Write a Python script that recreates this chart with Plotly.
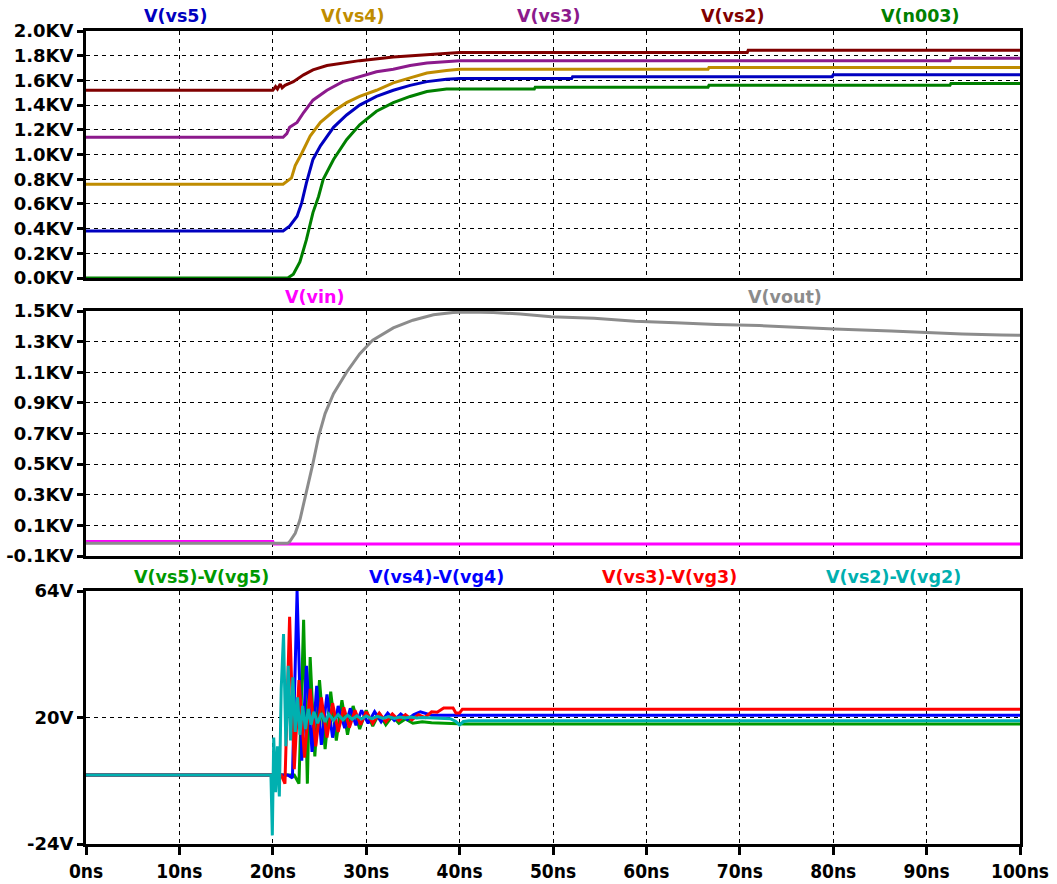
import plotly.graph_objects as go

# ---------------- data ----------------
# top panel (KV)
t_vs5 = [0, 21.1, 21.8, 22.6, 23.1, 23.6, 24.3, 25.1, 26.5, 27.9, 29.3, 31.1, 32.9, 34.7, 36.5, 38.6, 40.0, 52.0, 52.1, 79.9, 80.0, 100]
v_vs5 = [0.38, 0.38, 0.42, 0.50, 0.61, 0.77, 0.96, 1.07, 1.22, 1.32, 1.40, 1.47, 1.52, 1.56, 1.59, 1.61, 1.615, 1.615, 1.63, 1.63, 1.645, 1.645]

t_vs4 = [0, 21.1, 22.0, 22.4, 23.1, 24.0, 25.1, 26.5, 27.9, 29.3, 31.1, 32.9, 34.7, 36.5, 38.6, 40.0, 66.6, 66.7, 100]
v_vs4 = [0.76, 0.76, 0.81, 0.91, 1.01, 1.15, 1.26, 1.35, 1.42, 1.47, 1.52, 1.58, 1.62, 1.66, 1.68, 1.69, 1.69, 1.705, 1.705]

t_vs3 = [0, 21.1, 21.5, 21.8, 22.6, 23.3, 24.3, 25.8, 27.5, 29.3, 31.1, 32.9, 34.7, 36.5, 38.6, 40.0, 92.5, 92.6, 100]
v_vs3 = [1.14, 1.14, 1.17, 1.22, 1.26, 1.34, 1.44, 1.52, 1.59, 1.63, 1.67, 1.69, 1.72, 1.74, 1.755, 1.76, 1.76, 1.78, 1.78]

t_vs2 = [0, 20.0, 20.3, 20.5, 20.8, 21.0, 21.3, 21.6, 22.2, 23.3, 24.3, 25.8, 27.5, 29.3, 32.9, 36.5, 40.0, 70.8, 70.9, 100]
v_vs2 = [1.52, 1.52, 1.55, 1.53, 1.57, 1.54, 1.56, 1.57, 1.59, 1.645, 1.685, 1.72, 1.74, 1.76, 1.79, 1.81, 1.825, 1.825, 1.845, 1.845]

t_n003 = [0, 21.6, 22.2, 22.9, 23.6, 24.3, 24.9, 25.4, 26.5, 27.9, 29.3, 31.1, 32.9, 34.7, 36.5, 38.6, 40.0, 48.0, 48.1, 66.6, 66.7, 92.5, 92.6, 100]
v_n003 = [0, 0, 0.03, 0.13, 0.31, 0.53, 0.66, 0.80, 0.96, 1.12, 1.24, 1.35, 1.42, 1.47, 1.51, 1.53, 1.53, 1.53, 1.545, 1.545, 1.56, 1.56, 1.575, 1.575]

# middle panel (KV)
t_vin = [0, 20.0, 20.1, 100]
v_vin = [-0.005, -0.005, -0.022, -0.022]

t_vout = [0, 21.6, 21.8, 22.4, 22.9, 23.6, 24.3, 24.9, 25.6, 26.5, 27.9, 29.3, 30.7, 32.9, 35.0, 37.2, 39.3,
          40.8, 43.6, 46.5, 49.8, 54.4, 58.8, 63.1, 67.5, 72.1, 75.9, 80.1, 86.2, 90.0, 93.8, 98.0, 100]
v_vout = [-0.017, -0.017, -0.007, 0.048, 0.135, 0.31, 0.505, 0.68, 0.83, 0.96, 1.10, 1.22, 1.31, 1.39, 1.44, 1.475, 1.49,
          1.494, 1.49, 1.48, 1.463, 1.452, 1.433, 1.424, 1.412, 1.405, 1.394, 1.382, 1.370, 1.359, 1.350, 1.343, 1.342]

# bottom panel (V)
t_g5 = [0, 22.3, 22.8, 23.3, 23.7, 24.0, 24.5, 25.0, 25.6, 26.2, 26.8, 27.4, 28.0, 28.6, 29.3, 30.0, 30.7, 31.4,
        32.1, 32.8, 33.5, 34.2, 35.0, 36.0, 37.0, 38.0, 39.0, 40.0, 40.5, 100]
v_g5 = [0, 0, -3, 54, -3, 41, 6.5, 33, 9, 29, 12, 26, 14, 24, 16, 22.5, 17, 21.5,
        17.5, 20.5, 18, 19.5, 18, 18.5, 18.2, 18, 18, 17.8, 17.7, 17.7]

t_g4 = [0, 21.6, 22.1, 22.6, 23.1, 23.6, 24.2, 24.7, 25.2, 25.8, 26.4, 27.0, 27.7, 28.3, 28.9, 29.5, 30.2,
        30.9, 31.6, 32.3, 33.0, 33.7, 34.4, 35.1, 35.8, 36.3, 37.0, 37.6, 100]
v_g4 = [0, 0, -1, 64, 5, 38, 8, 31, 10.5, 28, 13, 24, 16.3, 23.2, 17.3, 22.5, 18,
        22, 18.5, 21.5, 19, 21.2, 19.3, 21, 22, 21.5, 20.8, 20.8, 20.8]

t_g3 = [0, 20.9, 21.3, 21.8, 22.3, 22.8, 23.4, 24.0, 24.6, 25.2, 25.8, 26.4, 27.0, 27.6, 28.2, 28.8, 29.4, 30.0,
        30.7, 31.4, 32.1, 32.8, 33.5, 34.2, 34.9, 35.6, 36.3, 37.0, 37.6, 38.3, 39.3, 39.6, 40.0, 40.3, 100]
v_g3 = [0, 0, -3, 55, 2, 33, 6, 30, 10, 27, 13, 25, 15, 23.5, 16.5, 22.5, 17.5, 22,
        18, 21.5, 18.5, 21.2, 19, 21, 19.2, 21, 20, 22, 21.8, 23.3, 23.3, 21.6, 21.6, 22.9, 22.9]

t_g2 = [0, 19.8, 19.95, 20.1, 20.3, 20.5, 20.7, 20.9, 21.15, 21.4, 21.65, 21.9, 22.15, 22.4, 22.65, 22.9, 23.2,
        23.5, 23.8, 24.1, 24.4, 24.8, 25.2, 25.6, 26.0, 26.5, 27.0, 27.5, 28.0, 28.5, 29.0, 29.5, 30.0, 30.6,
        31.2, 31.8, 32.4, 33.0, 33.6, 34.2, 34.8, 35.4, 36.0, 37.0, 38.0, 39.0, 39.6, 40.0, 40.4, 41.0, 100]
v_g2 = [0, 0, -21, 13, -6, 10, -7.5, 30, 49, 10, 38, 12, 34, 15, 27, 14, 24,
        16, 23, 17.5, 22, 18, 21.5, 18.5, 21.2, 19, 21, 19.2, 20.8, 19.4, 20.6, 19.5, 20.5, 19.6,
        20.4, 19.7, 20.3, 19.7, 20.2, 19.8, 20.2, 19.8, 20.0, 19.8, 19.8, 19.6, 18.6, 17.4, 18.6, 18.9, 18.9]

x_ticks = [0, 10, 20, 30, 40, 50, 60, 70, 80, 90, 100]
x_ticktext = ["0ns", "10ns", "20ns", "30ns", "40ns", "50ns", "60ns", "70ns", "80ns", "90ns", "100ns"]
y1_ticks = [0.0, 0.2, 0.4, 0.6, 0.8, 1.0, 1.2, 1.4, 1.6, 1.8, 2.0]
y1_ticktext = ["0.0KV", "0.2KV", "0.4KV", "0.6KV", "0.8KV", "1.0KV", "1.2KV", "1.4KV", "1.6KV", "1.8KV", "2.0KV"]
y2_ticks = [-0.1, 0.1, 0.3, 0.5, 0.7, 0.9, 1.1, 1.3, 1.5]
y2_ticktext = ["-0.1KV", "0.1KV", "0.3KV", "0.5KV", "0.7KV", "0.9KV", "1.1KV", "1.3KV", "1.5KV"]
y3_ticks = [-24, 20, 64]
y3_ticktext = ["-24V", "20V", "64V"]

# ---------------- figure ----------------
W, H = 1057, 884
L, R, T, B = 86, 1020, 31, 844
PH = B - T

def ydom(top_px, bot_px):
    return [(B - bot_px) / PH, (B - top_px) / PH]

fig = go.Figure()
LW = 3

def add(t, v, color, ax):
    fig.add_trace(go.Scatter(x=t, y=v, mode="lines", line=dict(color=color, width=LW),
                             xaxis="x" if ax == 1 else f"x{ax}", yaxis="y" if ax == 1 else f"y{ax}",
                             showlegend=False, hoverinfo="skip"))

C_BLUE1, C_GOLD, C_PURP, C_DRED, C_GRN1 = "#0000c0", "#bf8c00", "#8c1a8c", "#800000", "#008000"
C_MAG, C_GRAY = "#ff00ff", "#8c8c8c"
C_GRN3, C_BLUE3, C_RED3, C_CYAN3 = "#009900", "#0000ff", "#ff0000", "#00b0b0"

add(t_vs5, v_vs5, C_BLUE1, 1)
add(t_vs4, v_vs4, C_GOLD, 1)
add(t_vs3, v_vs3, C_PURP, 1)
add(t_vs2, v_vs2, C_DRED, 1)
add(t_n003, v_n003, C_GRN1, 1)

add(t_vin, v_vin, C_MAG, 2)
add(t_vout, v_vout, C_GRAY, 2)

add(t_g5, v_g5, C_GRN3, 3)
add(t_g4, v_g4, C_BLUE3, 3)
add(t_g3, v_g3, C_RED3, 3)
add(t_g2, v_g2, C_CYAN3, 3)

tick_font = dict(family="DejaVu Sans", size=18, color="black", weight="bold")
x_font = dict(family="DejaVu Sans Condensed, Liberation Sans Narrow, DejaVu Sans", size=19, color="black", weight="bold")

common_x = dict(range=[0, 100], tickvals=x_ticks, showgrid=True, gridcolor="black", gridwidth=1.3,
                griddash="4px,4px", showline=True, linecolor="black", linewidth=3, mirror=True,
                zeroline=False, fixedrange=True, automargin=False)
common_y = dict(showgrid=True, gridcolor="black", gridwidth=1.3, griddash="4px,4px",
                showline=True, linecolor="black", linewidth=3, mirror=True, zeroline=False,
                ticks="outside", ticklen=6, tickwidth=3, tickcolor="black", tickfont=tick_font,
                automargin=False)

fig.update_layout(
    width=W, height=H,
    margin=dict(l=L, r=W - R, t=T, b=H - B, pad=0, autoexpand=False),
    paper_bgcolor="white", plot_bgcolor="white",
    showlegend=False,
    xaxis=dict(**common_x, anchor="y", showticklabels=False, ticks=""),
    xaxis2=dict(**common_x, anchor="y2", matches="x", showticklabels=False, ticks=""),
    xaxis3=dict(**common_x, anchor="y3", matches="x", ticktext=x_ticktext, ticks="outside",
                ticklen=8, tickwidth=3, tickcolor="black", tickfont=x_font),
    yaxis=dict(**common_y, domain=ydom(31, 278), range=[0, 2.0], tickvals=y1_ticks, ticktext=y1_ticktext),
    yaxis2=dict(**common_y, domain=ydom(311, 556), range=[-0.1, 1.5], tickvals=y2_ticks, ticktext=y2_ticktext),
    yaxis3=dict(**common_y, domain=ydom(591, 844), range=[-24, 64], tickvals=y3_ticks, ticktext=y3_ticktext),
)

label_font = dict(family="DejaVu Sans", size=17.5)

def label(text, cx, cy, color):
    fig.add_annotation(text=text, x=(cx - L) / (R - L), y=(B - cy) / PH, xref="paper", yref="paper",
                       showarrow=False, xanchor="center", yanchor="middle",
                       font=dict(**label_font, color=color, weight="bold"))

label("V(vs5)", 176, 16, C_BLUE1)
label("V(vs4)", 353, 16, C_GOLD)
label("V(vs3)", 549, 16, C_PURP)
label("V(vs2)", 733, 16, C_DRED)
label("V(n003)", 920, 16, C_GRN1)
label("V(vin)", 314, 297, C_MAG)
label("V(vout)", 785, 297, C_GRAY)
label("V(vs5)-V(vg5)", 201, 577, C_GRN3)
label("V(vs4)-V(vg4)", 436, 577, C_BLUE3)
label("V(vs3)-V(vg3)", 669, 577, C_RED3)
label("V(vs2)-V(vg2)", 893, 577, C_CYAN3)

fig.write_html("out.html", config={"displayModeBar": False})

# remove the default page margin so the figure sits at the window's top-left corner
with open("out.html", "r", encoding="utf-8") as f:
    html = f.read()
html = html.replace("<head>", "<head><style>html,body{margin:0;padding:0;overflow:hidden;}</style>", 1)
with open("out.html", "w", encoding="utf-8") as f:
    f.write(html)
